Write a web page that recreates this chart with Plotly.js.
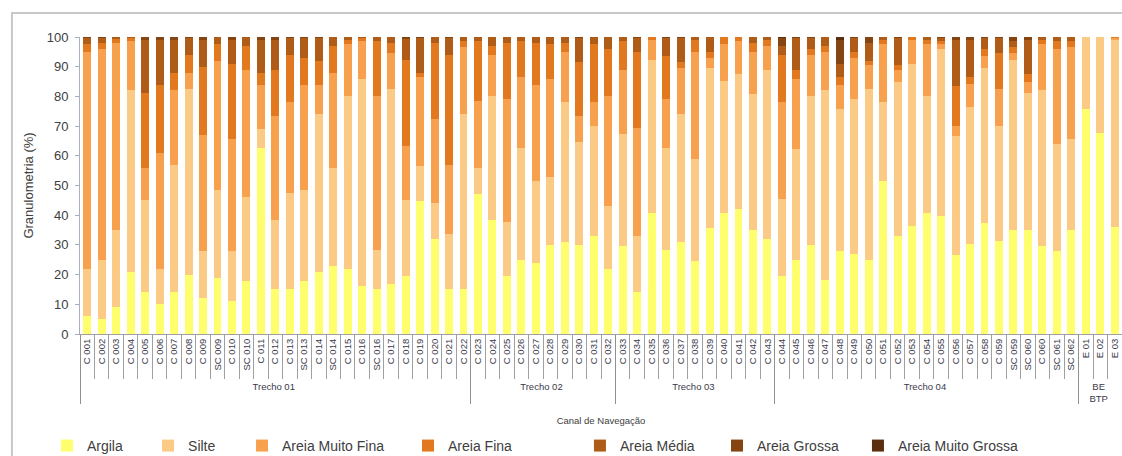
<!DOCTYPE html>
<html><head><meta charset="utf-8">
<script src="https://cdn.plot.ly/plotly-3.0.1.min.js"></script>
<style>html,body{margin:0;padding:0;background:#fff}#chart{width:1122px;height:456px}</style>
</head><body><div id="chart"></div>
<script>
// Sections (outer category level) and how many samples each holds
const trechos = ["Trecho 01", "Trecho 02", "Trecho 03", "Trecho 04", "BE<br>BTP"];
const trechoCounts = [27, 10, 11, 21, 3];

// Sample labels (inner category level)
const labels = [
  "C 001","C 002","C 003","C 004","C 005","C 006","C 007","C 008","C 009","SC 009",
  "C 010","SC 010","C 011","C 012","C 013","SC 013","C 014","SC 014","C 015","C 016",
  "SC 016","C 017","C 018","C 019","C 020","C 021","C 022",
  "C 023","C 024","C 025","C 026","C 027","C 028","C 029","C 030","C 031","C 032",
  "C 033","C 034","C 035","C 036","C 037","C 038","C 039","C 040","C 041","C 042","C 043",
  "C 044","C 045","C 046","C 047","C 048","C 049","C 050","C 051","C 052","C 053",
  "C 054","C 055","C 056","C 057","C 058","C 059","SC 059","SC 060","C 060","SC 061","SC 062",
  "E 01","E 02","E 03"
];

// Percentages per grain-size class
const argila = [6,5,9,21,14,10,14,20,12,19, 11,18,62.5,15,15,18,21,23,22,16, 15,17,19.4,44.7,32,15,15,
  47,38.5,19.4,25,24,30,31,30,33,22,
  29.5,14,40.7,28.4,31,24.5,35.6,40.7,42,35,32,
  19.4,25,30,18.2,27.8,27,25,51.5,33,36.3,40.7,39.6,26.7,30.2,37.4,31.3,35,35,29.5,27.8,35,
  75.6,67.8,36];
const silte = [16,20,26,61,31,12,43,62.5,16,29.6, 17,28,6.5,23.5,32.5,30.6,53,33,58,69.8, 13.4,65.5,25.6,11.8,12,18.7,59,
  9,41.5,18.2,37.5,27.5,23,47,34.5,37,21,
  37.7,19,51.7,34.1,43,34.5,54.1,44.5,45.5,45.7,57,
  26,37.2,50,63.8,47.9,52,57.5,26.5,52,54.7,39.3,56.4,40,46.1,52.3,38.7,57.4,46,52.5,36.2,30.5,
  24.4,32.2,63];
const areiaMuitoFina = [73,71,63,16.5,11,39,25,5.5,39,43.4, 37.5,43,15,35,30.5,35.4,10,32,17.5,12.7, 51.8,12.1,18.3,29.9,28.4,23.3,22.5,
  22.5,14,41.4,23.9,32.5,33,17,9,8,37,
  21.6,36.4,6.6,16.5,15.7,36,3.3,12.3,11,14.3,8,
  32.6,23.8,14,13,8,14,8,19.5,4,8,17.5,1.5,3.3,8,4,12.5,2.1,4,15.5,32,31,
  0,0,0.5];
const areiaFina = [2.5,2,1.3,1,25,23,6,6,23,5.5, 25.5,8,4,15.5,16,9,8,9,1.5,1, 18.3,3.4,29.1,1.6,25.6,37,2,
  20,3,19,12.1,14,11.5,3,18,19.5,16,
  9.7,25.6,1,14.7,2,4,2,2.5,1.5,3,2,
  16,3,2,2,2.7,2,1.5,1.5,1.5,1,1.5,1,13.6,2.1,2.2,12.1,2,2.5,1.5,2.5,2,
  0,0,0.5];
const areiaMedia = [2,1.5,0.7,0.5,18,15,11,5.5,9,2.5, 8,3,11,10,5.5,6.5,7.5,3,1,0.5, 1.5,2,7,11.5,2,5.5,1.5,
  1.5,3,2,1.5,2,2.5,2,8,2.5,4,
  1.5,4.5,0,6,8,1,5,0,0,2,1,
  3,10.5,3.5,3,4.6,4.5,6,1,9,0,1,1,15.4,12.6,3.6,5,2,11.5,1,1.5,1.5,
  0,0,0];
const areiaGrossa = [0.5,0.5,0,0,1,1,1,0.5,1,0, 1,0,1,1,0.5,0.5,0.5,0,0,0, 0,0,0.6,0.5,0,0.5,0,
  0,0,0,0,0,0,0,0.5,0,0,
  0,0.5,0,0.3,0.3,0,0,0,0,0,0,
  2.5,0.5,0.5,0,8,0.5,2,0,0.5,0,0,0.5,1,1,0.5,0.4,1.5,1,0,0,0,
  0,0,0];
const areiaMuitoGrossa = [0,0,0,0,0,0,0,0,0,0, 0,0,0,0,0,0,0,0,0,0, 0,0,0,0,0,0,0,
  0,0,0,0,0,0,0,0,0,0,
  0,0,0,0,0,0,0,0,0,0,0,
  0.5,0,0,0,1,0,0,0,0,0,0,0,0,0,0,0,0,0,0,0,0,
  0,0,0];

const seriesNames = ["Argila","Silte","Areia Muito Fina","Areia Fina","Areia Média","Areia Grossa","Areia Muito Grossa"];
const seriesValues = [argila, silte, areiaMuitoFina, areiaFina, areiaMedia, areiaGrossa, areiaMuitoGrossa];
const seriesColors = ["#FFFF6E","#FBCB86","#F7A14E","#E2791F","#AE5C18","#854512","#5A2E0E"];
const legendLeft = [-0.0317, 0.0653, 0.1555, 0.3148, 0.4798, 0.6113, 0.7466];

const groupArr = [];
trechos.forEach((t, i) => { for (let k = 0; k < trechoCounts[i]; k++) groupArr.push(t); });

const FONT = "Liberation Sans, Arial, sans-serif";
const traces = seriesNames.map((name, i) => ({
  type: "bar",
  name: name,
  x: [groupArr, labels],
  y: seriesValues[i],
  marker: {color: seriesColors[i], line: {width: 0}},
  legend: i === 0 ? "legend" : "legend" + (i + 1),
  hoverinfo: "name+y"
}));

const layout = {
  width: 1122, height: 456,
  margin: {l: 80, r: 0, t: 37, b: 122},
  paper_bgcolor: "#fff", plot_bgcolor: "#fff",
  barmode: "stack", bargap: 0.45,
  font: {family: FONT, color: "#404040"},
  xaxis: {
    type: "multicategory",
    tickangle: -90,
    tickfont: {size: 9.5, color: "#3a3a4a"},
    ticks: "outside", tickson: "boundaries", ticklen: 44, tickcolor: "#a0a0a0",
    showdividers: true, dividercolor: "#909090", dividerwidth: 1,
    showline: true, linecolor: "#a0a0a0", linewidth: 1,
    showgrid: false,
    title: {text: "Canal de Navegação", font: {size: 9.5, color: "#404040"}, standoff: 14}
  },
  yaxis: {
    range: [0, 100], dtick: 10, tick0: 0,
    showgrid: false, zeroline: false,
    showline: true, linecolor: "#a8b0c0", linewidth: 1,
    ticks: "outside", ticklen: 4, tickcolor: "#a8b0c0",
    ticklabelstandoff: 4,
    tickfont: {size: 13, color: "#404040"},
    title: {text: "Granulometria (%)", font: {size: 13, color: "#404040"}, standoff: 10}
  },
  shapes: [{
    type: "rect", xref: "paper", yref: "paper",
    x0: -0.0653, x1: 1.2, y0: -0.6, y1: 1.081,
    line: {color: "#c8c8c8", width: 2}, fillcolor: "rgba(0,0,0,0)", layer: "below"
  }],
  showlegend: true
};
legendLeft.forEach((lx, i) => {
  const key = i === 0 ? "legend" : "legend" + (i + 1);
  layout[key] = {
    x: lx, xanchor: "left", y: 0.022, yref: "container", yanchor: "middle",
    orientation: "h", bgcolor: "rgba(0,0,0,0)", borderwidth: 0,
    font: {size: 14, color: "#404040", family: FONT}, itemclick: false, itemdoubleclick: false
  };
});

Plotly.newPlot("chart", traces, layout, {displayModeBar: false, staticPlot: true});
</script>
</body></html>
